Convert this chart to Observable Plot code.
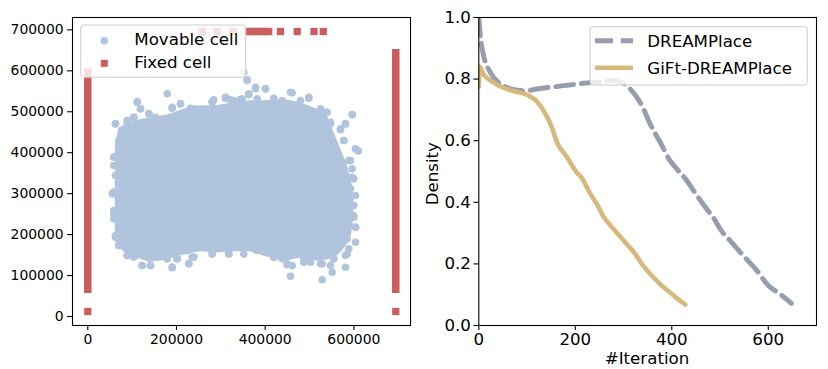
<!DOCTYPE html>
<html><head><meta charset="utf-8">
<script src="https://cdn.jsdelivr.net/npm/d3@7"></script>
<script src="https://cdn.jsdelivr.net/npm/@observablehq/plot@0.6"></script>
<style>
body{margin:0;background:#fff;}
#wrap{position:relative;width:828px;height:369px;overflow:hidden;font-family:"DejaVu Sans";background:#fff;}
#wrap > svg{position:absolute;top:0;}
</style></head><body><div id="wrap"></div>
<script>
// ---------- Left panel data ----------
const xTicksLeft = [0, 200000, 400000, 600000];
const yTicksLeft = [0, 100000, 200000, 300000, 400000, 500000, 600000, 700000];

// dense body of the movable-cell cloud (x, lower edge, upper edge)
const bodyX   = [62000, 70000, 90000, 105000, 140000, 180000, 216000, 254000, 292000, 329000, 367000, 404000, 442000, 480000, 517000, 540000, 555000, 570000, 585000, 595000, 600000];
const bodyBot = [185000,170000,150000,145000, 132000, 138000, 150000, 158000, 155000, 158000, 158000, 145000, 135000, 142000, 135000, 138000, 142000, 155000, 175000, 200000, 240000];
const bodyTop = [415000,460000,470000,478000, 485000, 492000, 506000, 514000, 515000, 522000, 527000, 527000, 530000, 522000, 506000, 490000, 450000, 410000, 370000, 330000, 290000];

// individual movable cells visible at the cloud's edges
const movableX = [58600,58600,62500,69900,88800,122700,141400,179000,190300,201600,227800,235400,224100,280500,318000,363100,396900,
  457100,528600,524700,551100,581100,554700,584900,603700,603700,599800,599800,419400,449600,487100,449600,
  359400,378200,400700,457100,498400,536000,547300,569800,581100,596200,577300,603700,592400,596200,592400,610000,
  62500,69900,58600,58600,88800,111400,118800,179000,137600,190300,209000,242900,280500,310500,348200,359400,351800,363100,103700,284100,321800,58600,55000,
  111330,118840,137640,152670,190260,209050,231600,280460,310530,329320,344350,363150,378180,400730,381940,419520,438310,460860,479660,498450,
  524760,539790,547310,569860,581140,596170,577380,603690,588660,596170,599930,592410,603690,599930,603690,584900,588660,581140,554830,547310,
  528520,502210,487180,460860,438310,419520,381940,351870,318040,280460,239120,224080,227840,201530,190260,178980,163950,141400,122600,103810,
  88780,69980,62470,58710,58710,62470,58710,69980,62470,88780,103810];
const movableY = [299600,258900,197800,173400,149000,124500,124500,140900,118900,140900,130200,144800,161200,153100,153100,169200,161200,
  98400,89600,128700,108200,120400,140900,153100,181400,218100,246600,271100,144800,128700,132600,126300,
  578000,560000,556000,547700,535500,498900,470600,455900,470600,493300,429800,409500,381000,340200,291300,404000,
  470600,429800,389000,368700,474500,523300,507200,543800,495000,511100,519400,507200,523300,535500,531600,576300,596600,544000,486700,529200,529200,250800,299600,
  525030,507120,494910,486770,508750,519330,508750,525030,533170,527470,529910,541310,555960,555960,531540,533170,527470,546190,527470,533170,
  507120,498980,474560,458280,470490,492470,429790,409440,380950,360600,336180,311760,295480,242570,218150,189660,165240,148960,140820,124540,
  128610,132680,140820,124540,140820,144890,161170,153030,153030,153030,144890,161170,128610,140820,120470,140820,148960,124540,124540,144890,
  148960,173380,193730,238500,303620,344320,389090,417610,470490,478630,486770];

// fixed cells: dense pad columns (x, lowest y, highest y)
const stripX  = [0, 694500];
const stripY1 = [65500, 65500];
const stripY2 = [596000, 642800];
// fixed cells: isolated pads
const fixedX = [0, 694500, 258000, 291800, 327900, 363500, 369000, 374500, 380000, 385500, 391000, 396500, 402000, 408000, 434500, 472200, 510000, 531000];
const fixedY = [12200, 12200, 696000, 696000, 696000, 696000, 696000, 696000, 696000, 696000, 696000, 696000, 696000, 696000, 696000, 696000, 696000, 696000];

// ---------- Right panel data ----------
const xTicksRight = [0, 200, 400, 600];
const yTicksRight = [0, 0.2, 0.4, 0.6, 0.8, 1.0];
const dreamX = [0, 4, 10, 17, 31, 52, 80, 97, 121, 162, 204, 245, 273, 294, 314, 338, 355, 376, 396, 410, 431, 452, 472, 490, 500, 524, 548, 576, 600, 624, 648];
const dreamY = [1.0, 0.93, 0.875, 0.843, 0.805, 0.778, 0.764, 0.762, 0.768, 0.776, 0.784, 0.791, 0.795, 0.79, 0.768, 0.714, 0.655, 0.595, 0.536, 0.509, 0.471, 0.422, 0.379, 0.341, 0.314, 0.27, 0.227, 0.179, 0.13, 0.103, 0.072];
const giftX = [0, 2, 10, 20, 40, 68, 100, 120, 137, 151, 162, 183, 204, 212, 231, 245, 259, 279, 300, 324, 338, 355, 379, 396, 411, 428];
const giftY = [0.775, 0.84, 0.815, 0.8, 0.78, 0.763, 0.749, 0.728, 0.69, 0.645, 0.595, 0.546, 0.495, 0.482, 0.428, 0.393, 0.352, 0.314, 0.276, 0.233, 0.2, 0.168, 0.13, 0.108, 0.088, 0.068];

const seriesNames = ["DREAMPlace", "GiFt-DREAMPlace"];
const cellNames = ["Movable cell", "Fixed cell"];

// ---------- build tables ----------
const body = bodyX.map((x, i) => ({x, bot: bodyBot[i], top: bodyTop[i]}));
const movable = movableX.map((x, i) => ({x, y: movableY[i]}));
const strips = stripX.map((x, i) => ({x, y1: stripY1[i], y2: stripY2[i]}));
const fixed = fixedX.map((x, i) => ({x, y: fixedY[i]}));
const dream = dreamX.map((x, i) => ({x, y: dreamY[i]}));
const gift = giftX.map((x, i) => ({x, y: giftY[i]}));

const BLUE = "#b0c4de", RED = "#cd5c5c", GRAY = "#959eaf", TAN = "#d6b97c";

const leftPlot = Plot.plot({
  width: 414, height: 369,
  marginLeft: 72, marginRight: 4, marginTop: 17, marginBottom: 44,
  x: {domain: [-34500, 727700]},
  y: {domain: [-22000, 730200]},
  style: {fontFamily: "DejaVu Sans", background: "transparent", color: "black", fontSize: "13.9px", overflow: "visible"},
  marks: [
    Plot.areaY(body, {x: "x", y1: "bot", y2: "top", fill: BLUE, curve: "linear"}),
    Plot.dot(movable, {x: "x", y: "y", r: 3.8, fill: BLUE}),
    Plot.ruleX(strips, {x: "x", y1: "y1", y2: "y2", stroke: RED, strokeWidth: 7.5, strokeLinecap: "square"}),
    Plot.dot(fixed, {x: "x", y: "y", symbol: "square", r: 4.1, fill: RED}),
    Plot.axisX({ticks: xTicksLeft, tickFormat: d => String(d), tickSize: 4.9, tickPadding: 4, fontSize: 13.9, label: null, strokeWidth: 1.1}),
    Plot.axisY({ticks: yTicksLeft, tickFormat: d => String(d), tickSize: 4.9, tickPadding: 4, fontSize: 13.9, label: null, strokeWidth: 1.1}),
    Plot.frame({stroke: "black", strokeWidth: 1.1})
  ]
});
leftPlot.style.left = "0px";

const rightPlot = Plot.plot({
  width: 414, height: 369,
  marginLeft: 64.3, marginRight: 12, marginTop: 17, marginBottom: 44,
  x: {domain: [0, 700]},
  y: {domain: [0, 1]},
  style: {fontFamily: "DejaVu Sans", background: "transparent", color: "black", fontSize: "16.67px", overflow: "visible"},
  marks: [
    Plot.line(dream, {x: "x", y: "y", stroke: GRAY, strokeWidth: 4.9, strokeDasharray: "18,7.8", curve: "monotone-x", clip: true}),
    Plot.line(gift, {x: "x", y: "y", stroke: TAN, strokeWidth: 4.6, curve: "monotone-x", clip: true}),
    Plot.axisX({ticks: xTicksRight, tickFormat: d => String(d), tickSize: 4.9, tickPadding: 3, fontSize: 16.67, label: null, strokeWidth: 1.1}),
    Plot.axisY({ticks: yTicksRight, tickFormat: d3.format(".1f"), tickSize: 4.9, tickPadding: 3, fontSize: 16.67, label: null, strokeWidth: 1.1}),
    Plot.frame({stroke: "black", strokeWidth: 1.1})
  ]
});
rightPlot.style.left = "414px";

const wrap = document.getElementById("wrap");
wrap.appendChild(leftPlot);
wrap.appendChild(rightPlot);

// ---------- overlay: legends and axis titles ----------
const ns = "http://www.w3.org/2000/svg";
const ov = document.createElementNS(ns, "svg");
ov.setAttribute("width", 828); ov.setAttribute("height", 369);
ov.style.position = "absolute"; ov.style.left = "0px"; ov.style.top = "0px";
ov.style.fontFamily = "DejaVu Sans";
function el(tag, attrs, text) {
  const e = document.createElementNS(ns, tag);
  for (const k in attrs) e.setAttribute(k, attrs[k]);
  if (text != null) e.textContent = text;
  ov.appendChild(e);
  return e;
}
// left legend
el("rect", {x: 80.7, y: 25, width: 165, height: 52.3, rx: 3, fill: "rgba(255,255,255,0.8)", stroke: "#cccccc", "stroke-width": 1});
el("circle", {cx: 104.3, cy: 40.7, r: 3.8, fill: BLUE});
el("rect", {x: 100.8, y: 59.8, width: 7, height: 7, fill: RED});
el("text", {x: 134.3, y: 44.5, "font-size": 16.67, fill: "black"}, cellNames[0]);
el("text", {x: 134.3, y: 67.5, "font-size": 16.67, fill: "black"}, cellNames[1]);
// right legend
el("rect", {x: 590, y: 26.7, width: 217.3, height: 58.3, rx: 3, fill: "rgba(255,255,255,0.8)", stroke: "#cccccc", "stroke-width": 1});
el("line", {x1: 595, x2: 633, y1: 40.7, y2: 40.7, stroke: GRAY, "stroke-width": 4.9, "stroke-dasharray": "18,7.8"});
el("line", {x1: 595, x2: 633, y1: 67.7, y2: 67.7, stroke: TAN, "stroke-width": 4.6});
el("text", {x: 647.3, y: 46.8, "font-size": 16.67, fill: "black"}, seriesNames[0]);
el("text", {x: 647.3, y: 73.6, "font-size": 16.67, fill: "black"}, seriesNames[1]);
// axis titles
el("text", {transform: "translate(437.5,173.7) rotate(-90)", "text-anchor": "middle", "font-size": 16.67, fill: "black"}, "Density");
el("text", {x: 647, y: 363.5, "text-anchor": "middle", "font-size": 16.67, fill: "black"}, "#Iteration");
wrap.appendChild(ov);
</script></body></html>
